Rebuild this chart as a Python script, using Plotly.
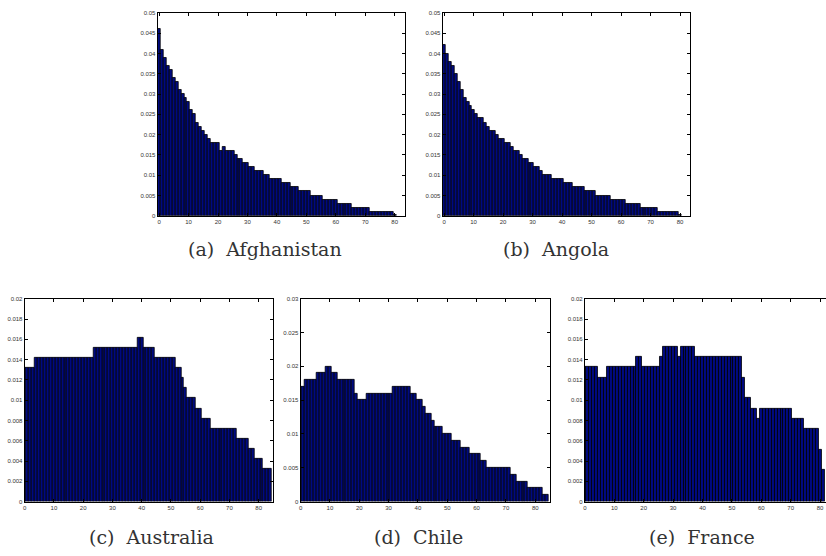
import plotly.graph_objects as go

# ---------------- data (share of population by single year of age) ----------------
afg_ages = list(range(0, 81))
afg_vals = ([0.046, 0.041, 0.039, 0.037, 0.036, 0.034, 0.033, 0.031, 0.030, 0.029,
             0.028, 0.026, 0.025, 0.023, 0.022, 0.021, 0.020, 0.019]
            + [0.018] * 3 + [0.016, 0.017] + [0.016] * 3 + [0.015] + [0.014] * 2
            + [0.013] * 2 + [0.012] * 2 + [0.011] * 3 + [0.010] * 2 + [0.009] * 4
            + [0.008] * 3 + [0.007] * 3 + [0.006] * 4 + [0.005] * 4 + [0.004] * 5
            + [0.003] * 5 + [0.002] * 6 + [0.001] * 8 + [0.0003])

ang_ages = list(range(0, 81))
ang_vals = ([0.042, 0.040, 0.038, 0.037, 0.035, 0.033, 0.031, 0.029, 0.028, 0.027,
             0.026, 0.025, 0.024, 0.024, 0.023, 0.022, 0.021, 0.021, 0.020, 0.019,
             0.019, 0.018, 0.018, 0.017, 0.016, 0.016, 0.015, 0.014, 0.014, 0.013,
             0.013, 0.012, 0.012, 0.011, 0.010, 0.010, 0.010]
            + [0.009] * 4 + [0.008] * 3 + [0.007] * 4 + [0.006] * 4 + [0.005] * 5
            + [0.004] * 5 + [0.003] * 5 + [0.002] * 6 + [0.001] * 7 + [0.0003])

aus_ages = list(range(0, 85))
aus_vals = ([0.0132] * 4 + [0.0142] * 20 + [0.0152] * 15 + [0.0162] * 2 + [0.0152] * 4
            + [0.0142] * 7 + [0.0132] * 2 + [0.0122] + [0.0112] + [0.0102] * 3
            + [0.0092] * 2 + [0.0082] * 3 + [0.0072] * 9 + [0.0062] * 4 + [0.0052] * 2
            + [0.0042] * 3 + [0.0032] * 3)

chl_ages = list(range(0, 85))
chl_vals = ([0.017] * 2 + [0.018] * 4 + [0.019] * 3 + [0.020] * 2 + [0.019] * 2
            + [0.018] * 6 + [0.016] + [0.015] * 3 + [0.016] * 9 + [0.017] * 6
            + [0.016] * 2 + [0.015] * 2 + [0.014] + [0.013] * 2 + [0.012] + [0.011] * 3
            + [0.010] * 3 + [0.009] * 3 + [0.008] * 3 + [0.007] * 4 + [0.006] * 2
            + [0.005] * 8 + [0.004] * 2 + [0.003] * 4 + [0.002] * 5 + [0.001] * 2)

fra_ages = list(range(0, 82))
fra_vals = ([0.0133] * 5 + [0.0122] * 3 + [0.0133] * 10 + [0.0143] * 2 + [0.0133] * 6
            + [0.0143] + [0.0153] * 5 + [0.0143] + [0.0153] * 5 + [0.0143] * 16
            + [0.0122] + [0.0102] * 2 + [0.0092] * 2 + [0.0082] + [0.0092] * 11
            + [0.0082] * 4 + [0.0072] * 5 + [0.0051] + [0.0031])

captions = ["(a)\u00a0\u00a0Afghanistan", "(b)\u00a0\u00a0Angola", "(c)\u00a0\u00a0Australia",
            "(d)\u00a0\u00a0Chile", "(e)\u00a0\u00a0France"]
x_ticks = [0, 10, 20, 30, 40, 50, 60, 70, 80]
y_ticks_top = [0, 0.005, 0.01, 0.015, 0.02, 0.025, 0.03, 0.035, 0.04, 0.045, 0.05]
y_ticks_c = [0, 0.002, 0.004, 0.006, 0.008, 0.01, 0.012, 0.014, 0.016, 0.018, 0.02]
y_ticks_d = [0, 0.005, 0.01, 0.015, 0.02, 0.025, 0.03]

W, H = 826, 556

panels = [
    # ages, values, x-domain px, y-domain px (top, bottom), x range, y range, yticks, caption pos, mirror y
    (afg_ages, afg_vals, (156, 404), (10, 215), [-0.5, 83.5], [0, 0.05], y_ticks_top, (264, 249), "ticks"),
    (ang_ages, ang_vals, (441.7, 690), (10, 215), [-0.5, 83.5], [0, 0.05], y_ticks_top, (555, 249), "ticks"),
    (aus_ages, aus_vals, (22.7, 272), (299, 504), [0, 85], [0, 0.02], y_ticks_c, (150, 540), "ticks"),
    (chl_ages, chl_vals, (299.3, 549.3), (299, 504), [0, 85], [0, 0.03], y_ticks_d, (418, 540), "ticks"),
    (fra_ages, fra_vals, (584.3, 826), (299, 504), [0, 82], [0, 0.02], y_ticks_c, (702, 540), False),
]

fig = go.Figure()
annotations = []
tick_font = dict(family="Liberation Sans, Arial, sans-serif", size=6, color="#333333")

for i, (ages, vals, xd, yd, xr, yr, yt, cap, ymir) in enumerate(panels):
    n = "" if i == 0 else str(i + 1)
    fig.add_trace(go.Bar(
        x=ages, y=vals, width=1,
        marker=dict(color="#000a80", line=dict(color="#000000", width=0.8)),
        xaxis="x" + n, yaxis="y" + n, showlegend=False, hoverinfo="x+y",
    ))
    fig.update_layout(**{
        "xaxis" + n: dict(
            domain=[xd[0] / W, min(xd[1] / W, 1.0)], anchor="y" + n, range=xr,
            tickmode="array", tickvals=x_ticks, ticks="inside", ticklen=3,
            tickcolor="black", showline=True, linecolor="black", linewidth=1,
            mirror="ticks", showgrid=False, zeroline=False, tickfont=tick_font,
            fixedrange=True,
        ),
        "yaxis" + n: dict(
            domain=[1 - yd[1] / H, 1 - yd[0] / H], anchor="x" + n, range=yr,
            tickmode="array", tickvals=yt, ticktext=[("%g" % v) for v in yt],
            ticks="inside", ticklen=3, tickcolor="black", showline=True,
            linecolor="black", linewidth=1, mirror=ymir, showgrid=False,
            zeroline=False, tickfont=tick_font, fixedrange=True,
        ),
    })
    annotations.append(dict(
        text=captions[i], x=cap[0] / W, y=1 - cap[1] / H, xref="paper", yref="paper",
        xanchor="center", yanchor="middle", showarrow=False,
        font=dict(family="DejaVu Serif, Liberation Serif, serif", size=19, color="#333333"),
    ))

fig.update_layout(
    width=W, height=H, margin=dict(l=0, r=0, t=0, b=0),
    paper_bgcolor="white", plot_bgcolor="white", bargap=0,
    annotations=annotations,
)

fig.write_html(
    "out.html",
    config={"displayModeBar": False},
    post_script="document.body.style.margin='0px';document.body.style.overflow='hidden';",
)
